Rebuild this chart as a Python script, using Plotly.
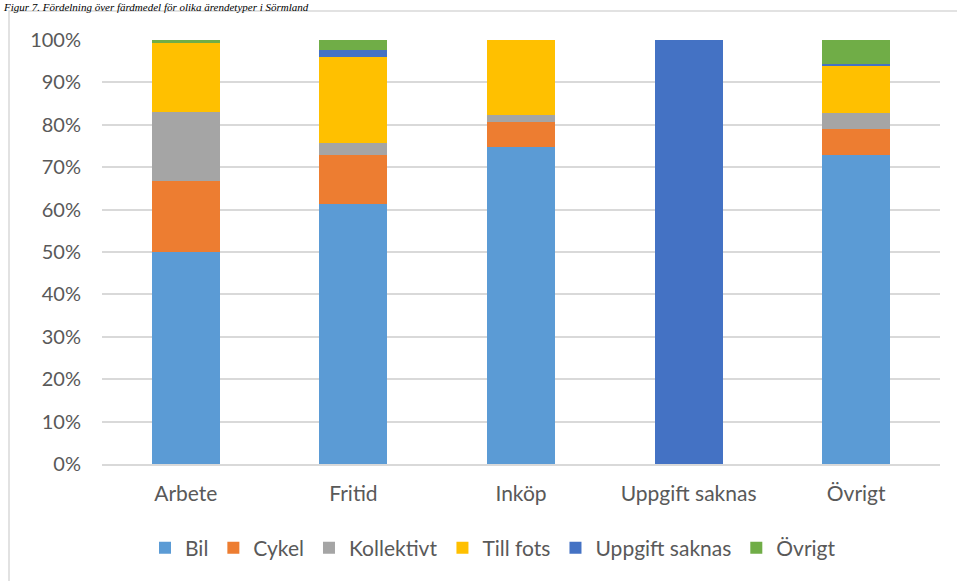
import plotly.graph_objects as go

categories = ["Arbete", "Fritid", "Inköp", "Uppgift saknas", "Övrigt"]
series_names = ["Bil", "Cykel", "Kollektivt", "Till fots", "Uppgift saknas", "Övrigt"]
bil = [50.0, 61.3, 74.8, 0.0, 72.8]
cykel = [16.7, 11.6, 5.9, 0.0, 6.2]
kollektivt = [16.3, 2.8, 1.6, 0.0, 3.8]
till_fots = [16.3, 20.3, 17.7, 0.0, 11.3]
uppgift_saknas = [0.0, 1.6, 0.0, 100.0, 0.2]
ovrigt = [0.7, 2.4, 0.0, 0.0, 5.7]
tick_vals = [0, 10, 20, 30, 40, 50, 60, 70, 80, 90, 100]
tick_text = [f"{v}%" for v in tick_vals]
title_text = "Figur 7. Fördelning över färdmedel för olika ärendetyper i Sörmland"

colors = ["#5B9BD5", "#ED7D31", "#A5A5A5", "#FFC000", "#4472C4", "#70AD47"]
values = [bil, cykel, kollektivt, till_fots, uppgift_saknas, ovrigt]

fig = go.Figure()
for name, vals, col in zip(series_names, values, colors):
    fig.add_trace(go.Bar(x=categories, y=vals, name=name,
                         marker=dict(color=col, line=dict(width=0))))

font_fam = "Lato, 'Open Sans', sans-serif"
L, R, T, B = 102, 17, 40, 117
W = 957 - L - R
H = 581 - T - B

fig.update_layout(
    width=957, height=581,
    barmode="stack", bargap=0.595,
    margin=dict(l=L, r=R, t=T, b=B, autoexpand=False),
    paper_bgcolor="white", plot_bgcolor="white",
    font=dict(family=font_fam, size=21, color="#595959"),
    xaxis=dict(showgrid=False, showline=True, linecolor="#d9d9d9", linewidth=1.5,
               ticks="", tickfont=dict(size=21, color="#595959"), ticklabelstandoff=10),
    yaxis=dict(range=[0, 100], tickvals=tick_vals, ticktext=tick_text,
               showgrid=True, gridcolor="#d9d9d9", gridwidth=1.5, zeroline=False,
               showline=False, ticks="", tickfont=dict(size=20, color="#595959"),
               ticklabelstandoff=20),
    legend=dict(orientation="h", x=(493 - L) / W, xanchor="center", y=-(548 - 464) / H,
                yanchor="middle", font=dict(size=21, color="#595959"),
                itemwidth=30, traceorder="normal", tracegroupgap=0),
    showlegend=True,
)

# outer chart border (left and top visible)
fig.add_shape(type="rect", xref="paper", yref="paper",
              x0=(9 - L) / W, x1=(1000 - L) / W,
              y0=-(650 - 464) / H, y1=1 + (T - 11) / H,
              line=dict(color="#d9d9d9", width=1.5), fillcolor="rgba(0,0,0,0)",
              layer="below")

# caption at top (kept fully visible)
fig.add_annotation(text=title_text, xref="paper", yref="paper",
                   x=(2 - L) / W, xanchor="left",
                   y=1 + (T - 0) / H, yanchor="top",
                   showarrow=False, borderpad=0,
                   font=dict(family="'Liberation Serif', serif", size=11, color="#000000"))
fig.update_annotations(font_style="italic")

fig.write_html("out.html")
